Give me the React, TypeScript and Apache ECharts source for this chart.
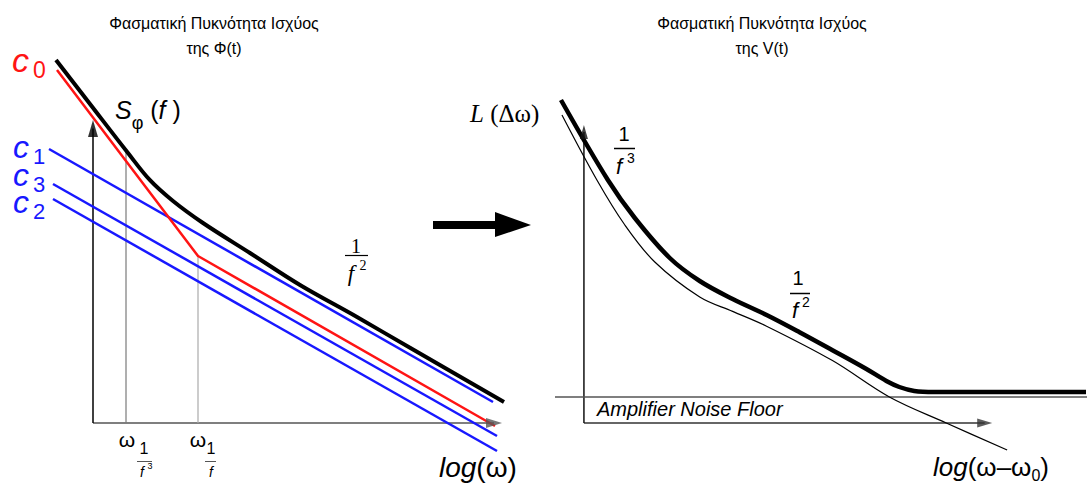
import React, { useEffect, useRef } from "react";
import * as echarts from "echarts";

type Pt = [number, number];

// ---------- Left panel: S_phi(f), log-log units (x = log ω, y = level) ----------
const phiPsd: Pt[] = [
  [-0.925, 9.075], [-0.075, 7.975], [0.875, 6.75], [1.425, 6.07], [2.0, 5.55],
  [2.75, 5.0], [3.925, 4.25], [5.175, 3.45], [6.6, 2.65], [7.925, 1.88], [10.275, 0.525],
];
// c0: 1/f^3 asymptote bending into 1/f^2
const c0Line: Pt[] = [[-0.9, 8.825], [2.625, 4.175], [10.05, -0.075]];
const c1Line: Pt[] = [[-1.1, 6.85], [10.0, 0.525]];
const c3Line: Pt[] = [[-1.0, 5.975], [10.1, -0.325]];
const c2Line: Pt[] = [[-1.0, 5.6], [10.1, -0.7]];
// subscripts of the blue asymptote labels, top to bottom
const blueIndices = ["1", "3", "2"];
// corner frequencies ω(1/f^3) and ω(1/f), with the level each marker reaches
const cornerFreqs = [0.825, 2.625];
const cornerLevels = [6.8, 4.175];
// arrow tips of the drawn log-log axes
const leftAxisTips: Pt = [10.225, 7.575];

// ---------- Right panel: L(Δω) of the oscillator output ----------
const lOutput: Pt[] = [
  [-0.575, 8.075], [0.6, 6.075], [1.275, 5.125], [2.15, 4.125], [2.9, 3.55],
  [3.725, 3.1], [4.575, 2.7], [5.4, 2.27], [6.225, 1.82], [7.075, 1.35],
  [7.575, 1.05], [7.9, 0.9], [8.275, 0.8], [8.775, 0.775], [12.575, 0.775],
];
const lNoFloor: Pt[] = [
  [-0.55, 7.7], [0.325, 6.075], [1.025, 4.95], [1.775, 4.025], [2.9, 3.15],
  [3.725, 2.79], [4.575, 2.42], [6.225, 1.56], [7.65, 0.65], [9.075, 0.0], [10.6, -0.675],
];
const noiseFloorLevel = 0.65;
const noiseFloorSpan: Pt = [-0.725, 12.6];
const rightAxisTips: Pt = [10.225, 7.45];

const SANS = '"Liberation Sans", Arial, sans-serif';
const SERIF = '"Liberation Serif", "Times New Roman", serif';
const RED = "#ff1414";
const BLUE = "#1818ff";
const PX = 40; // pixels per logical unit on every axis

type TxtOpts = { family?: string; italic?: boolean; color?: string; align?: string; lh?: number };
function txt(text: string, x: number, y: number, size: number, o: TxtOpts = {}) {
  const align = o.align || "left";
  return {
    type: "text",
    x,
    y,
    silent: true,
    z: 10,
    style: {
      text,
      fontSize: size,
      fontFamily: o.family || SANS,
      fontStyle: o.italic ? "italic" : "normal",
      fill: o.color || "#000",
      lineHeight: o.lh,
      align,
      textAlign: align,
      verticalAlign: "middle",
      textVerticalAlign: "middle",
    },
  };
}
type Part = { t: string; size: number; italic?: boolean; sub?: number; family?: string };
// one text element built from pieces; a "sub" piece sits low in the line box (its value = its box height)
function richTxt(x: number, y: number, parts: Part[], lineH: number, color = "#000") {
  const rich: Record<string, any> = {};
  const text = parts
    .map((p, i) => {
      rich["p" + i] = {
        fontSize: p.size,
        fontFamily: p.family || SANS,
        fontStyle: p.italic ? "italic" : "normal",
        fill: color,
        color,
        lineHeight: p.sub !== undefined ? p.sub : lineH,
        verticalAlign: p.sub !== undefined ? "bottom" : "middle",
      };
      return `{p${i}|${p.t}}`;
    })
    .join("");
  return {
    type: "text",
    x,
    y,
    silent: true,
    z: 10,
    style: { text, rich, fill: color, verticalAlign: "middle", textVerticalAlign: "middle" },
  };
}
function hline(x1: number, x2: number, y: number, color = "#000", w = 1.2) {
  return { type: "line", silent: true, z: 10, shape: { x1, y1: y, x2, y2: y }, style: { stroke: color, lineWidth: w } };
}

function lineSeries(data: Pt[], idx: number, color: string, width: number, smooth: number | boolean = false, z = 2) {
  return {
    type: "line",
    xAxisIndex: idx,
    yAxisIndex: idx,
    data,
    symbol: "none",
    showSymbol: false,
    smooth,
    clip: false,
    silent: true,
    z,
    lineStyle: { color, width, cap: "butt", join: "round" },
  };
}

// drawn axis (line + triangular arrowhead whose tip lands on the given end)
function drawnAxis(idx: number, end: Pt, horizontal: boolean, color: string, arrowW: number, arrowL: number) {
  const back = arrowL / 2 / PX;
  const center: Pt = horizontal ? [end[0] - back, 0] : [0, end[1] - back];
  return [
    lineSeries([[0, 0], center], idx, color, 1.5, false, 1),
    {
      type: "scatter",
      xAxisIndex: idx,
      yAxisIndex: idx,
      data: [center],
      symbol: "triangle",
      symbolSize: [arrowW, arrowL],
      symbolRotate: horizontal ? -90 : 0,
      itemStyle: { color },
      silent: true,
      z: 4,
    },
  ];
}

const hidden = { show: false, type: "value" };

export default function App() {
  const ref = useRef<HTMLDivElement>(null);

  useEffect(() => {
    document.body.style.margin = "0";
    if (!ref.current) return;
    const chart = echarts.init(ref.current, null, { renderer: "svg" });

    const cornerSeries = cornerFreqs.map((f, i) =>
      lineSeries([[f, 0], [f, cornerLevels[i]]], 0, i === 0 ? "#7a7a7a" : "#aaaaaa", 1.2, false, 1)
    );

    const graphic: any[] = [
      // titles
      txt("Φασματική Πυκνότητα Ισχύος", 214, 23, 16, { align: "center" }),
      txt("της Φ(t)", 214, 48, 16, { align: "center" }),
      txt("Φασματική Πυκνότητα Ισχύος", 762, 23, 16, { align: "center" }),
      txt("της V(t)", 762, 48, 16, { align: "center" }),
      // c0 label
      txt("c", 12, 60, 34, { italic: true, color: RED }),
      txt("0", 33, 70, 23, { color: RED }),
      // c1 / c3 / c2 labels: one column of "c", one column of indices
      txt(blueIndices.map(() => "c").join("\n"), 13, 174.5, 32, { italic: true, color: BLUE, lh: 27.5 }),
      txt(blueIndices.join("\n"), 33, 184, 22, { color: BLUE, lh: 27.5 }),
      // S_phi(f)
      richTxt(115, 110, [
        { t: "S", size: 25, italic: true },
        { t: "φ", size: 18, sub: 18 },
        { t: " (", size: 25 },
        { t: "f", size: 25, italic: true },
        { t: " )", size: 25 },
      ], 44),
      // L(Δω)
      richTxt(470, 113, [
        { t: "L", size: 25, italic: true, family: SERIF },
        { t: " (Δω)", size: 25, family: SERIF },
      ], 28),
      // 1/f^2 on the left panel
      txt("1", 356, 246, 20, { family: SERIF, align: "center" }),
      hline(345, 368, 255.5, "#000", 1.2),
      txt("f", 351, 273, 23, { family: SERIF, italic: true, align: "center", lh: 18 }),
      txt("2", 363, 265, 14, { family: SERIF, align: "center", lh: 10 }),
      // 1/f^3 and 1/f^2 on the right panel
      txt("1", 624, 134, 20, { align: "center" }),
      hline(614, 635, 148.5, "#000", 1.5),
      txt("f", 619, 166, 22, { italic: true, align: "center", lh: 16 }),
      txt("3", 631, 158, 14, { align: "center", lh: 10 }),
      txt("1", 798, 278, 20, { align: "center" }),
      hline(790, 810, 293.5, "#000", 1.5),
      txt("f", 795, 310, 22, { italic: true, align: "center", lh: 16 }),
      txt("2", 806, 302, 14, { align: "center", lh: 10 }),
      // corner frequency labels
      txt("ω", 127, 439, 21, { align: "center" }),
      txt("1", 144, 448, 16, { align: "center" }),
      hline(137, 152, 461.5, "#555", 1),
      txt("f", 142, 472, 14, { italic: true, align: "center", lh: 12 }),
      txt("3", 150, 466, 9, { align: "center", lh: 8 }),
      txt("ω", 198, 439, 21, { align: "center" }),
      txt("1", 211, 448, 16, { align: "center" }),
      hline(205, 216, 461.5, "#555", 1),
      txt("f", 211, 472, 14, { italic: true, align: "center" }),
      // axis names
      richTxt(439, 467, [{ t: "log", size: 28, italic: true }, { t: "(ω)", size: 28 }], 32),
      richTxt(933, 467, [
        { t: "log", size: 26, italic: true },
        { t: "(ω–ω", size: 26 },
        { t: "0", size: 16, sub: 16 },
        { t: ")", size: 26 },
      ], 32),
      txt("Amplifier Noise Floor", 597, 409, 20, { italic: true }),
      // block arrow between the panels
      { type: "rect", silent: true, shape: { x: 433, y: 221, width: 64, height: 8 }, style: { fill: "#000" } },
      { type: "polygon", silent: true, shape: { points: [[495, 212], [531, 225], [495, 237]] }, style: { fill: "#000" } },
    ];

    chart.setOption({
      animation: false,
      backgroundColor: "#fff",
      grid: [
        { left: 33, top: 23, width: 500, height: 440 },
        { left: 544, top: 23, width: 544, height: 440 },
      ],
      xAxis: [
        { ...hidden, gridIndex: 0, min: -1.5, max: 11 },
        { ...hidden, gridIndex: 1, min: -1, max: 12.6 },
      ],
      yAxis: [
        { ...hidden, gridIndex: 0, min: -1, max: 10 },
        { ...hidden, gridIndex: 1, min: -1, max: 10 },
      ],
      graphic,
      series: [
        ...drawnAxis(0, leftAxisTips, true, "#555", 10, 16),
        ...drawnAxis(0, leftAxisTips, false, "#000", 10, 17),
        ...drawnAxis(1, rightAxisTips, true, "#333", 9, 15),
        ...drawnAxis(1, rightAxisTips, false, "#111", 8, 14),
        ...cornerSeries,
        lineSeries(c2Line, 0, BLUE, 2.5),
        lineSeries(c3Line, 0, BLUE, 2.5),
        lineSeries(c1Line, 0, BLUE, 2.5),
        lineSeries(c0Line, 0, RED, 2.5),
        lineSeries(phiPsd, 0, "#000", 4, 0.35, 3),
        lineSeries([[noiseFloorSpan[0], noiseFloorLevel], [noiseFloorSpan[1], noiseFloorLevel]], 1, "#555", 1.3),
        lineSeries(lNoFloor, 1, "#000", 1.2, 0.35),
        lineSeries(lOutput, 1, "#000", 4.5, 0.35, 3),
      ],
    });

    return () => chart.dispose();
  }, []);

  return <div ref={ref} style={{ width: 1087, height: 483 }} />;
}
